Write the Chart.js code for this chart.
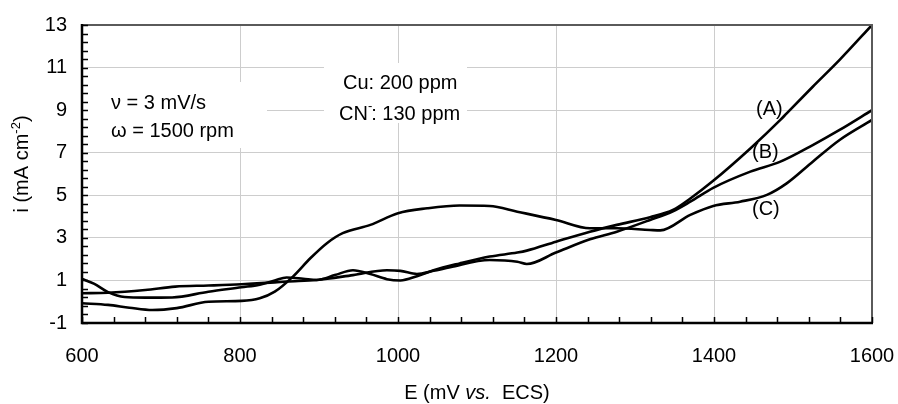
<!DOCTYPE html>
<html><head><meta charset="utf-8">
<script src="https://cdn.jsdelivr.net/npm/chart.js@4/dist/chart.umd.min.js"></script>
<style>html,body{margin:0;padding:0;background:#fff}</style>
</head><body>
<canvas id="c" width="898" height="404"></canvas>
<script>
// ---- data ----
const xTicks = [600, 800, 1000, 1200, 1400, 1600];
const yTicks = [-1, 1, 3, 5, 7, 9, 11, 13];

const eA = [600,615,633,654,680,714,760,802,825,844,859,880,897,920,943,965,986,1003,1024,1045,1078,1116,1151,1163,1200,1243,1277,1319,1348,1370,1399,1446,1484,1492,1525,1559,1600];
const iA = [1.07,0.85,0.45,0.22,0.19,0.2,0.47,0.68,0.8,1.0,1.14,1.08,1.02,1.25,1.48,1.3,1.06,1.0,1.2,1.48,1.8,2.12,2.31,2.4,2.82,3.29,3.61,3.97,4.31,4.85,5.68,7.2,8.54,8.85,10.1,11.36,13.0];

const eB = [600,633,680,718,760,802,844,859,897,943,986,1003,1024,1045,1066,1116,1151,1163,1200,1243,1277,1319,1348,1370,1399,1446,1484,1525,1559,1600];
const iB = [0.4,0.42,0.55,0.71,0.76,0.82,0.91,0.95,1.02,1.25,1.48,1.45,1.3,1.45,1.62,1.96,1.88,1.77,2.31,2.93,3.29,3.84,4.25,4.7,5.35,6.11,6.58,7.36,8.07,9.0];

const eC = [600,633,660,689,720,760,802,825,844,867,889,910,930,965,1000,1037,1078,1116,1151,1200,1243,1277,1319,1332,1370,1399,1433,1467,1492,1525,1559,1600];
const iC = [-0.07,-0.15,-0.28,-0.39,-0.3,0.0,0.04,0.16,0.47,1.18,2.04,2.75,3.22,3.61,4.16,4.39,4.52,4.5,4.23,3.84,3.45,3.45,3.37,3.35,4.08,4.5,4.7,5.02,5.56,6.58,7.6,8.54];

const seriesLabels = ['(A)', '(B)', '(C)'];

// ---- chart ----
const FONT = '"Liberation Sans", Arial, sans-serif';
const FS = 20;
const toPts = (xs, ys) => xs.map((x, k) => ({x: x, y: ys[k]}));

const decor = {
  id: 'decor',
  beforeDatasetsDraw(chart) {
    const ctx = chart.ctx;
    ctx.save();
    ctx.fillStyle = '#fff';
    ctx.fillRect(84, 82, 183, 66);
    ctx.fillRect(324, 63, 143, 60);
    ctx.restore();
  },
  afterDatasetsDraw(chart) {
    const ctx = chart.ctx;
    const a = chart.chartArea;
    const xs = chart.scales.x, ys = chart.scales.y;
    ctx.save();
    ctx.strokeStyle = '#5a5a5a';
    ctx.lineWidth = 2;
    ctx.beginPath();
    ctx.moveTo(a.left, a.top); ctx.lineTo(a.right, a.top); ctx.lineTo(a.right, a.bottom);
    ctx.stroke();
    ctx.strokeStyle = '#000';
    ctx.lineWidth = 1.5;
    ctx.beginPath();
    for (let v = 600; v <= 1600.1; v += 40) {
      const px = Math.round(xs.getPixelForValue(v)) + 0.5;
      ctx.moveTo(px, a.bottom); ctx.lineTo(px, a.bottom - 6);
    }
    for (let v = -1; v <= 13.01; v += 0.4) {
      const py = Math.round(ys.getPixelForValue(v)) + 0.5;
      ctx.moveTo(a.left, py); ctx.lineTo(a.left + 6, py);
    }
    ctx.stroke();
    ctx.lineWidth = 2.5;
    ctx.beginPath();
    ctx.moveTo(a.left, a.top - 1); ctx.lineTo(a.left, a.bottom); ctx.lineTo(a.right + 1, a.bottom);
    ctx.stroke();

    ctx.fillStyle = '#000';
    ctx.textBaseline = 'alphabetic';
    ctx.textAlign = 'left';
    const F = FS + 'px ' + FONT;
    ctx.font = F;
    ctx.fillText('\u03BD = 3 mV/s', 111, 109);
    ctx.fillText('\u03C9 = 1500 rpm', 111, 137);
    ctx.fillText('Cu: 200 ppm', 343, 89);
    const t = 'CN';
    ctx.fillText(t, 339, 120);
    const w = ctx.measureText(t).width;
    ctx.font = '13px ' + FONT;
    ctx.fillText('-', 339 + w, 110);
    const w2 = ctx.measureText('-').width;
    ctx.font = F;
    ctx.fillText(': 130 ppm', 339 + w + w2 - 1, 120);
    ctx.fillText(seriesLabels[0], 756, 115);
    ctx.fillText(seriesLabels[1], 752, 158);
    ctx.fillText(seriesLabels[2], 752, 215);

    const parts = [['E (mV ', ''], ['vs.', 'italic '], ['  ECS)', '']];
    let total = 0;
    parts.forEach(p => { ctx.font = p[1] + F; total += ctx.measureText(p[0]).width; });
    let x0 = (a.left + a.right) / 2 - total / 2;
    parts.forEach(p => { ctx.font = p[1] + F; ctx.fillText(p[0], x0, 399); x0 += ctx.measureText(p[0]).width; });

    ctx.translate(28, 164);
    ctx.rotate(-Math.PI / 2);
    const s1 = 'i (mA cm', s3 = ')';
    ctx.font = '13px ' + FONT; const ws2 = ctx.measureText('-2').width;
    ctx.font = F;
    const ws1 = ctx.measureText(s1).width, ws3 = ctx.measureText(s3).width;
    let yx = -(ws1 + ws2 + ws3) / 2;
    ctx.fillText(s1, yx, 0); yx += ws1;
    ctx.font = '13px ' + FONT; ctx.fillText('-2', yx, -8); yx += ws2;
    ctx.font = F; ctx.fillText(s3, yx, 0);
    ctx.restore();
  }
};

const lineStyle = {borderColor: '#000', borderWidth: 2.6, pointRadius: 0, fill: false, cubicInterpolationMode: 'monotone'};

new Chart(document.getElementById('c'), {
  type: 'line',
  data: {
    datasets: [
      Object.assign({label: seriesLabels[0], data: toPts(eA, iA)}, lineStyle),
      Object.assign({label: seriesLabels[1], data: toPts(eB, iB)}, lineStyle),
      Object.assign({label: seriesLabels[2], data: toPts(eC, iC)}, lineStyle)
    ]
  },
  options: {
    responsive: false,
    animation: false,
    devicePixelRatio: 1,
    layout: {padding: {top: 25, right: 26, left: 0, bottom: 0}},
    plugins: {legend: {display: false}, tooltip: {enabled: false}},
    scales: {
      x: {
        type: 'linear', min: 600, max: 1600,
        afterBuildTicks: s => { s.ticks = xTicks.map(v => ({value: v})); },
        afterFit: s => { s.height = 81; s.paddingLeft = 0; s.paddingRight = 0; },
        grid: {color: '#cdcdcd', lineWidth: 1, drawTicks: false},
        border: {display: false},
        ticks: {padding: 21, color: '#000', font: {family: FONT, size: FS}, maxRotation: 0, callback: v => String(v)}
      },
      y: {
        type: 'linear', min: -1, max: 13,
        afterBuildTicks: s => { s.ticks = yTicks.map(v => ({value: v})); },
        afterFit: s => { s.width = 82; s.paddingTop = 0; s.paddingBottom = 0; },
        grid: {color: '#cdcdcd', lineWidth: 1, drawTicks: false},
        border: {display: false},
        ticks: {padding: 15, color: '#000', font: {family: FONT, size: FS}, callback: v => String(v)}
      }
    }
  },
  plugins: [decor]
});
</script>
</body></html>
